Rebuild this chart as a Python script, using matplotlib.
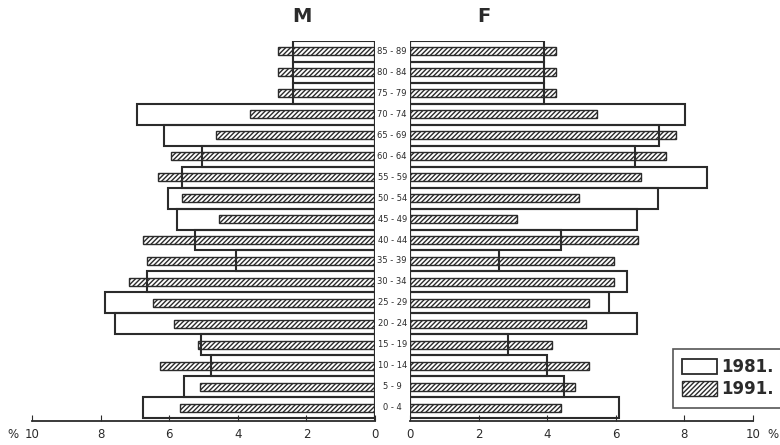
import matplotlib.pyplot as plt
from matplotlib.patches import Patch

ages = ["0 - 4", "5 - 9", "10 - 14", "15 - 19", "20 - 24", "25 - 29", "30 - 34", "35 - 39",
        "40 - 44", "45 - 49", "50 - 54", "55 - 59", "60 - 64", "65 - 69", "70 - 74",
        "75 - 79", "80 - 84", "85 - 89"]

# percentages, from 0-4 upward
male_1981 = [6.75, 5.58, 4.79, 5.07, 7.57, 7.86, 6.65, 4.06, 5.26, 5.78, 6.04, 5.64,
             5.04, 6.15, 6.95, 2.38, 2.38, 2.38]
male_1991 = [5.68, 5.10, 6.26, 5.17, 5.87, 6.46, 7.16, 6.65, 6.75, 4.55, 5.63, 6.34,
             5.95, 4.63, 3.64, 2.83, 2.83, 2.83]
female_1981 = [6.09, 4.49, 3.99, 2.87, 6.63, 5.81, 6.32, 2.60, 4.41, 6.63, 7.23, 8.66,
               6.57, 7.25, 8.03, 3.92, 3.92, 3.92]
female_1991 = [4.41, 4.81, 5.23, 4.13, 5.13, 5.22, 5.95, 5.95, 6.66, 3.11, 4.94, 6.74,
               7.47, 7.76, 5.45, 4.25, 4.25, 4.25]

ticks = [0, 2, 4, 6, 8, 10]
ink = "#2b2b2b"
plt.rcParams["hatch.color"] = ink
plt.rcParams["hatch.linewidth"] = 1.0

fig = plt.figure(figsize=(7.8, 4.45), dpi=100)
axL = fig.add_axes([32 / 780, 24 / 445, 343 / 780, 380 / 445])
axR = fig.add_axes([410 / 780, 24 / 445, 343 / 780, 380 / 445])

y = list(range(len(ages)))
for ax, v81, v91 in [(axL, male_1981, male_1991), (axR, female_1981, female_1991)]:
    ax.barh(y, v91, height=0.38, facecolor="white", edgecolor=ink, hatch="///////", linewidth=1.0)
    ax.barh(y, v81, height=1.0, facecolor="none", edgecolor=ink, linewidth=1.5)
    ax.set_ylim(-0.64, 17.5)
    ax.set_yticks([])
    for s in ["left", "right", "top"]:
        ax.spines[s].set_visible(False)
    ax.spines["bottom"].set_color(ink)
    ax.spines["bottom"].set_linewidth(1.3)
    ax.spines["bottom"].set_bounds(0, 10)
    ax.set_xticks(ticks)
    ax.tick_params(axis="x", direction="in", length=4, color=ink, labelsize=8.5, labelcolor=ink, pad=5)

axL.set_xlim(10, 0)
axR.set_xlim(0, 10)
axL.axvline(0, color=ink, lw=1.5)
axR.axvline(0, color=ink, lw=1.5)

for i, a in enumerate(ages):
    axL.text(-0.5, i, a, ha="center", va="center", fontsize=6, color=ink, clip_on=False)

fig.text(13 / 780, 1 - 435 / 445, "%", fontsize=8.5, color=ink, ha="center", va="center")
fig.text(773 / 780, 1 - 435 / 445, "%", fontsize=8.5, color=ink, ha="center", va="center")
fig.text(302 / 780, 1 - 16 / 445, "M", fontsize=14, fontweight="bold", color=ink, ha="center", va="center")
fig.text(484 / 780, 1 - 16 / 445, "F", fontsize=14, fontweight="bold", color=ink, ha="center", va="center")

handles = [Patch(facecolor="white", edgecolor=ink, linewidth=1.3, label="1981."),
           Patch(facecolor="white", edgecolor=ink, hatch="///////", label="1991.")]
leg = fig.legend(handles=handles, loc="upper left", bbox_to_anchor=(673 / 780, 1 - 349 / 445),
                 frameon=True, fancybox=False, edgecolor=ink,
                 handlelength=2.1, handleheight=1.0, borderpad=0.55, labelspacing=0.25,
                 handletextpad=0.25, borderaxespad=0, prop={"weight": "bold", "size": 12})
leg.get_frame().set_linewidth(1.2)
for t in leg.get_texts():
    t.set_color(ink)

fig.savefig("out.png", dpi=100)
